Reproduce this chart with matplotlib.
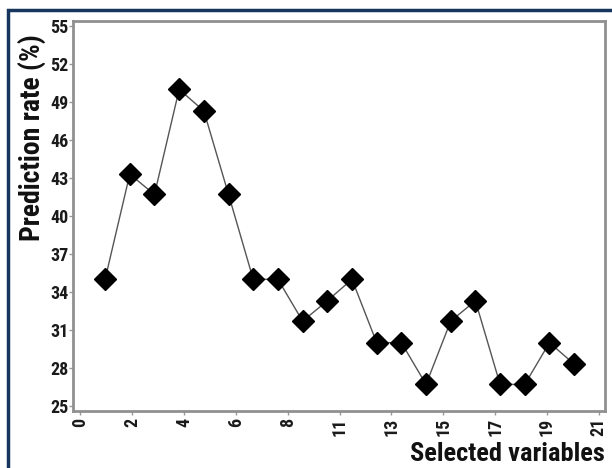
import numpy as np
import matplotlib.pyplot as plt
from matplotlib import font_manager
from matplotlib.patches import Rectangle

# number of selected variables and the prediction rate obtained
n_vars = [1, 2, 3, 4, 5, 6, 7, 8, 9, 10,
          11, 12, 13, 14, 15, 16, 17, 18, 19, 20]
pred_rate = [35.0, 43.3, 41.7, 50.0, 48.3, 41.7, 35.0, 35.0, 31.7, 33.3,
             35.0, 30.0, 30.0, 26.7, 31.7, 33.3, 26.7, 26.7, 30.0, 28.3]

x_ticks = np.linspace(0, 21, 11)
x_ticklabels = ["0", "2", "4", "6", "8", "11", "13", "15", "17", "19", "21"]
y_ticks = [25, 28, 31, 34, 37, 40, 43, 46, 49, 52, 55]


def pick_font(names, default):
    # first installed family of the list
    for name in names:
        try:
            font_manager.findfont(name, fallback_to_default=False)
            return name
        except ValueError:
            pass
    return default


narrow = pick_font(["Liberation Sans Narrow", "Arial Narrow",
                    "DejaVu Sans Condensed", "Roboto Condensed"],
                   "Liberation Sans")

fig = plt.figure(figsize=(6.12, 4.68), dpi=100)
ax = fig.add_axes([0.1193, 0.1218, 0.8693, 0.8333])

ax.plot(n_vars, pred_rate, color="#555555", lw=1.0, marker="D", ms=11,
        mfc="black", mec="black", mew=1)

ax.set_xlim(-0.3, 21.25)
ax.set_ylim(24.6, 55.4)
ax.set_xticks(x_ticks)
ax.set_xticklabels(x_ticklabels, rotation=90)
ax.set_yticks(y_ticks)

for lab in ax.get_xticklabels() + ax.get_yticklabels():
    lab.set_fontfamily(narrow)
    lab.set_fontweight("bold")
    lab.set_fontsize(13)
    lab.set_color("#1a1a1a")

ax.tick_params(direction="out", length=3, width=1, color="#999999")
ax.tick_params(axis="x", pad=2)
ax.tick_params(axis="y", pad=0.5)
for sp in ax.spines.values():
    sp.set_color("#909090")
    sp.set_linewidth(2)

ax.set_xlabel("Selected variables", family=narrow, weight="bold", size=19,
              color="#111111", loc="right", labelpad=4)
ax.set_ylabel("Prediction rate (%)", family=narrow, weight="bold", size=20,
              color="#111111")
ax.yaxis.set_label_coords(-0.05, 0.70)

# dark blue frame around the picture
fig.add_artist(Rectangle((8 / 612, -0.2), 1.2, 1.2 - 10 / 468,
                         transform=fig.transFigure, fill=False,
                         edgecolor="#17365d", lw=2.5))

fig.savefig("out.png", dpi=100)
